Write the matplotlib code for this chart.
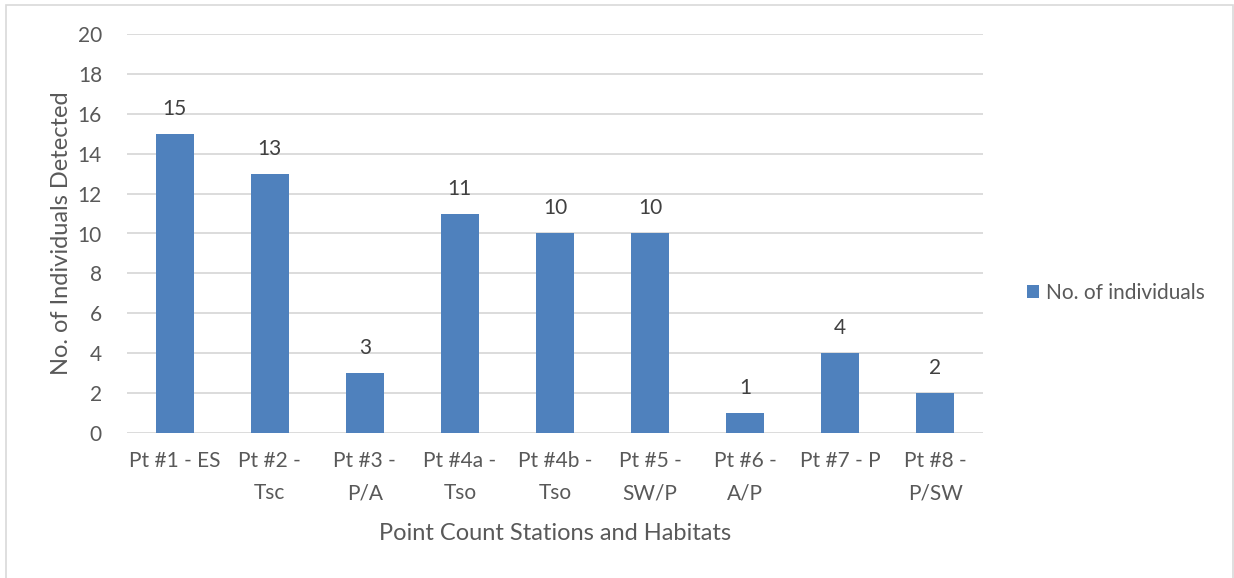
import matplotlib.pyplot as plt
from matplotlib.patches import Rectangle

plt.rcParams['font.family'] = ['Lato', 'DejaVu Sans']

stations = ['Pt #1 - ES', 'Pt #2 -\nTsc', 'Pt #3 -\nP/A', 'Pt #4a -\nTso', 'Pt #4b -\nTso',
            'Pt #5 -\nSW/P', 'Pt #6 -\nA/P', 'Pt #7 - P', 'Pt #8 -\nP/SW']
individuals = [15, 13, 3, 11, 10, 10, 1, 4, 2]
y_ticks = [0, 2, 4, 6, 8, 10, 12, 14, 16, 18, 20]

bar_color = '#4F81BD'
text_color = '#595959'
grid_color = '#D9D9D9'

fig = plt.figure(figsize=(12.34, 5.78), dpi=100)
ax = fig.add_axes([127 / 1234, 1 - 433 / 578, (983 - 127) / 1234, (433 - 34) / 578])

x = range(len(stations))
bars = ax.bar(x, individuals, width=0.4, color=bar_color, label='No. of individuals', zorder=3)
for xi, v in zip(x, individuals):
    ax.annotate(str(v), (xi, v), xytext=(0, 18), textcoords='offset points',
                ha='center', va='center', fontsize=15, color='#404040')

ax.set_xlim(-0.5, len(stations) - 0.5)
ax.set_ylim(0, 20)
ax.set_yticks(y_ticks)
ax.yaxis.grid(True, color=grid_color, linewidth=1.3, zorder=0)
ax.set_axisbelow(True)
for s in ax.spines.values():
    s.set_visible(False)
ax.tick_params(length=0, labelsize=15, labelcolor=text_color)
ax.tick_params(axis='y', pad=18)
ax.tick_params(axis='x', pad=13)
ax.set_xticks(list(x))
ax.set_xticklabels(stations, linespacing=1.75)

ax.set_ylabel('No. of Individuals Detected', fontsize=17, color=text_color, labelpad=4)
ax.set_xlabel('Point Count Stations and Habitats', fontsize=17, color=text_color, labelpad=14)

fig.legend(handles=[bars], labels=['No. of individuals'], loc='center left',
           bbox_to_anchor=(1008 / 1234, 1 - 293 / 578), frameon=False,
           fontsize=15, labelcolor=text_color, handlelength=0.6, handleheight=0.6,
           handletextpad=0.3)

# light outer frame
fig.patches.append(Rectangle((6 / 1234, -0.1), (1233 - 6) / 1234, 1.1 - 5 / 578,
                             transform=fig.transFigure, fill=False,
                             edgecolor=grid_color, linewidth=1.2))

fig.savefig('out.png', dpi=100)
